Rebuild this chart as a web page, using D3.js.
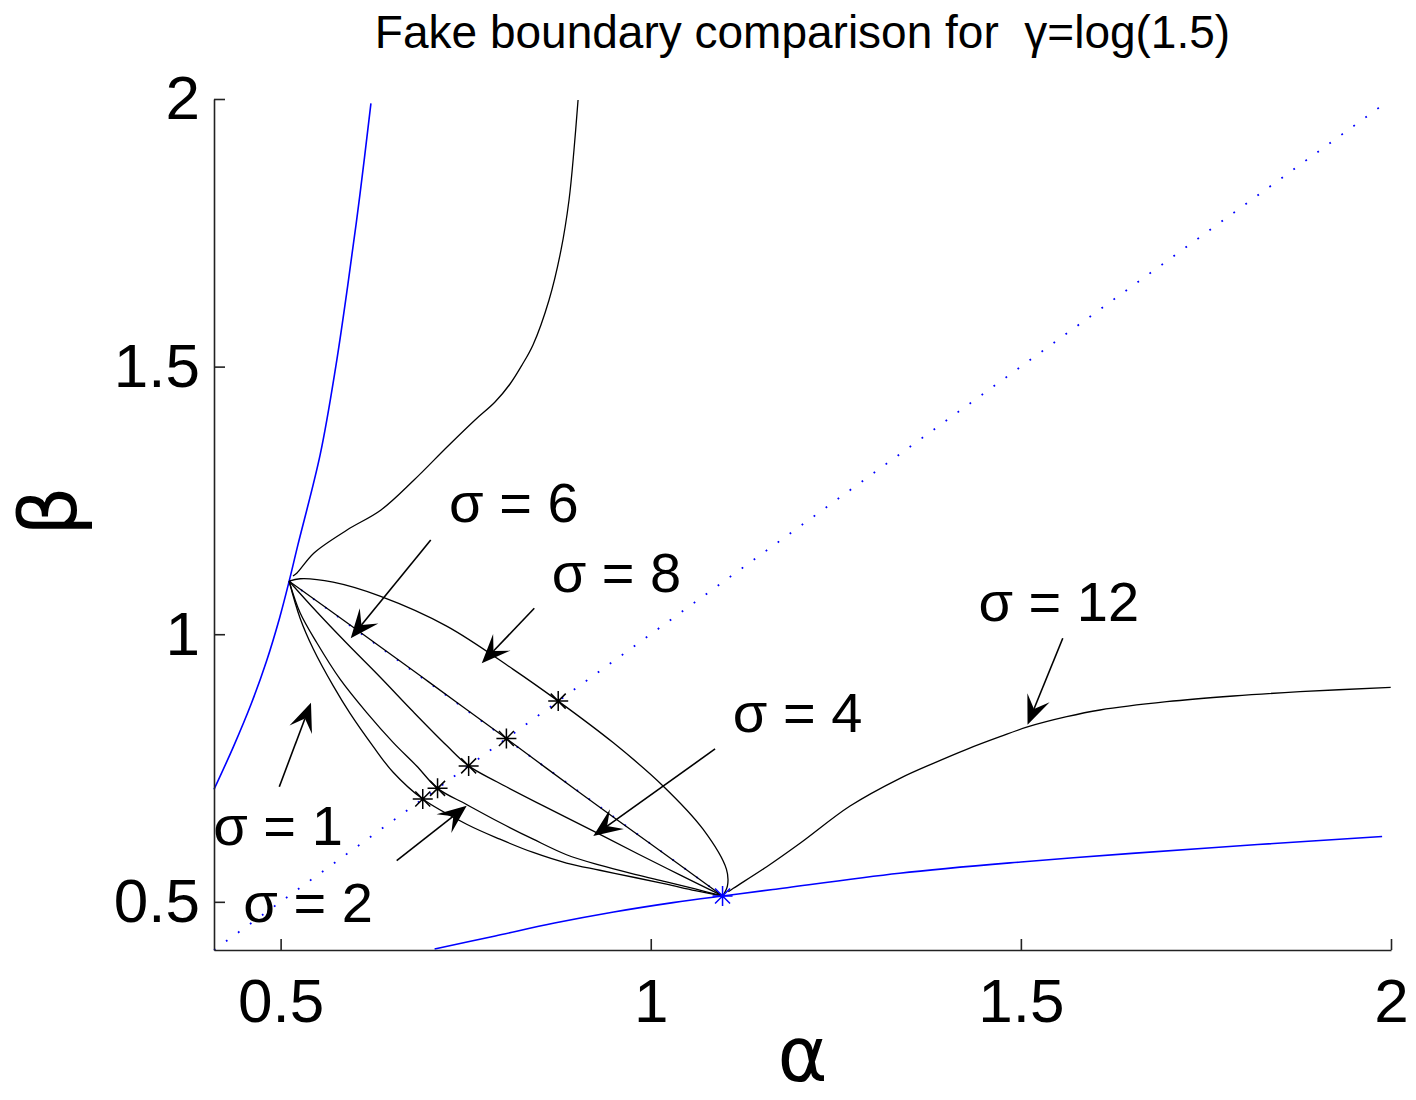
<!DOCTYPE html>
<html>
<head>
<meta charset="utf-8">
<script src="https://cdn.jsdelivr.net/npm/d3@7"></script>
<style>
  body { margin: 0; background: #fff; }
  svg { display: block; font-family: "Liberation Sans", Arial, Helvetica, sans-serif; }
</style>
</head>
<body>
<div id="chart"></div>
<script>
// axes
const xDomain = [0.41, 2];
const yDomain = [0.41, 2];
const xTicks = [0.5, 1, 1.5, 2];
const yTicks = [0.5, 1, 1.5, 2];

// blue boundaries (alpha, beta)
const blueUpper = [[0.410,0.710],[0.4363,0.790],[0.4603,0.870],[0.481,0.950],[0.4985,1.030],[0.5115,1.099],[0.523,1.165],[0.5535,1.336],[0.5745,1.500],[0.5905,1.650],[0.607,1.820],[0.622,1.992]];
const blueLower = [[0.708,0.412],[0.790,0.4363],[0.870,0.4603],[0.950,0.481],[1.030,0.4985],[1.097,0.511],[1.165,0.523],[1.336,0.5535],[1.500,0.5745],[1.650,0.5905],[1.820,0.607],[1.988,0.622]];
const diagonal = [[0.41,0.41],[1.99,1.99]];
const chord = [[0.5115,1.099],[1.097,0.511]];

// fake boundaries for each sigma
const sigma1 = [[0.5115,1.099],[0.5263,1.03],[0.5443,0.972],[0.5713,0.903],[0.5938,0.852],[0.6252,0.79],[0.652,0.742],[0.692,0.692],[0.7513,0.645],[0.7963,0.617],[0.8412,0.5922],[0.8862,0.5725],[0.9312,0.559],[0.98,0.545],[1.0212,0.533],[1.06,0.521],[1.097,0.511]];
const sigma2 = [[0.5115,1.099],[0.5263,1.04],[0.5489,0.984],[0.5803,0.916],[0.6163,0.8535],[0.6522,0.7975],[0.6838,0.7538],[0.712,0.712],[0.7513,0.6818],[0.7963,0.6482],[0.8412,0.617],[0.8862,0.588],[0.9312,0.5685],[0.98,0.551],[1.0212,0.5373],[1.06,0.524],[1.097,0.511]];
const sigma4 = [[0.5115,1.099],[0.55,1.04],[0.5893,0.983],[0.6343,0.92],[0.6792,0.855],[0.7243,0.792],[0.754,0.754],[0.792,0.7243],[0.855,0.6792],[0.92,0.634],[0.983,0.5893],[1.04,0.55],[1.097,0.511]];
const sigma6 = [[0.5115,1.099],[0.60,1.011],[0.70,0.911],[0.805,0.805],[0.90,0.708],[1.00,0.608],[1.097,0.511]];
const sigma8 = [[0.5115,1.099],[0.5263,1.1036],[0.5709,1.0972],[0.6343,1.0711],[0.7243,1.0151],[0.8142,0.9343],[0.875,0.875],[0.9491,0.7975],[1.0166,0.7165],[1.0706,0.6357],[1.1022,0.561],[1.1036,0.53],[1.097,0.511]];
const sigma12Upper = [[0.5167,1.1088],[0.5221,1.1144],[0.5451,1.1518],[0.5897,1.1947],[0.6356,1.2321],[0.6802,1.2881],[0.7248,1.3498],[0.7626,1.4003],[0.7896,1.4339],[0.8099,1.4675],[0.8261,1.503],[0.8409,1.5404],[0.8626,1.6245],[0.8788,1.7179],[0.8896,1.8113],[0.8963,1.9047],[0.9018,1.998]];
const sigma12Lower = [[1.1048,0.5189],[1.1116,0.5253],[1.1567,0.5656],[1.2017,0.6094],[1.2692,0.679],[1.3367,0.7308],[1.3817,0.7588],[1.4268,0.785],[1.4718,0.8085],[1.51,0.8272],[1.5619,0.8459],[1.6069,0.8584],[1.697,0.8739],[1.787,0.8846],[1.8771,0.8926],[1.9996,0.9008]];

// crossings with alpha = beta (sigma 1, 2, 4, 6, 8)
const crossings = [0.692, 0.712, 0.754, 0.805, 0.875];
const meetPoint = [1.097, 0.511];

const labels = [
  { text: "σ = 6",  at: [0.7275, 1.2102] },
  { text: "σ = 8",  at: [0.8662, 1.0795] },
  { text: "σ = 12", at: [1.4426, 1.0247] },
  { text: "σ = 4",  at: [1.1108, 0.8179] },
  { text: "σ = 1",  at: [0.409, 0.6062] },
  { text: "σ = 2",  at: [0.4496, 0.4629] }
];
const arrows = [
  { from: [0.7028, 1.176],  to: [0.5947, 0.9924] },
  { from: [0.8427, 1.0484], to: [0.7717, 0.9457] },
  { from: [0.4982, 0.7151], to: [0.5410, 0.8721] },
  { from: [0.6568, 0.5768], to: [0.7514, 0.6796] },
  { from: [1.0869, 0.7856], to: [0.9224, 0.623] },
  { from: [1.5566, 0.9924], to: [1.509, 0.831] }
];

(function () {
  const W = 1416, H = 1100;
  const plot = { left: 214, right: 1391, top: 99, bottom: 950 };

  const svg = d3.select("#chart").append("svg")
    .attr("width", W)
    .attr("height", H);

  const x = d3.scaleLinear().domain(xDomain).range([plot.left, plot.right]);
  const y = d3.scaleLinear().domain(yDomain).range([plot.bottom, plot.top]);

  const line = d3.line()
    .x(d => x(d[0]))
    .y(d => y(d[1]))
    .curve(d3.curveCatmullRom.alpha(0.5));
  const straight = d3.line().x(d => x(d[0])).y(d => y(d[1]));

  // dotted guides
  [diagonal, chord].forEach(pts => {
    svg.append("path")
      .attr("d", straight(pts))
      .attr("fill", "none")
      .attr("stroke", "#0000ff")
      .attr("stroke-width", 1.8)
      .attr("stroke-dasharray", "1.8,13");
  });

  // blue boundaries
  [blueUpper, blueLower].forEach(pts => {
    svg.append("path")
      .attr("d", line(pts))
      .attr("fill", "none")
      .attr("stroke", "#0000ff")
      .attr("stroke-width", 1.6);
  });

  // black sigma curves
  [sigma1, sigma2, sigma4, sigma6, sigma8, sigma12Upper, sigma12Lower].forEach(pts => {
    svg.append("path")
      .attr("d", line(pts))
      .attr("fill", "none")
      .attr("stroke", "#000")
      .attr("stroke-width", 1.3);
  });

  // asterisk markers
  function star(cx, cy, color) {
    const g = svg.append("g")
      .attr("transform", `translate(${cx},${cy})`)
      .attr("stroke", color)
      .attr("stroke-width", 1.5);
    const r = 10, q = 7.5;
    g.append("path")
      .attr("d", `M${-r},0H${r}M0,${-r}V${r}M${-q},${-q}L${q},${q}M${-q},${q}L${q},${-q}`);
  }
  crossings.forEach(v => star(x(v), y(v), "#000"));
  star(x(meetPoint[0]), y(meetPoint[1]), "#0000ff");

  // axes, ticks pointing inward
  const xAxis = d3.axisBottom(x).tickValues(xTicks).tickFormat(d3.format("")).tickSizeInner(-11).tickSizeOuter(0).tickPadding(28);
  const yAxis = d3.axisLeft(y).tickValues(yTicks).tickFormat(d3.format("")).tickSizeInner(-11).tickSizeOuter(0).tickPadding(14);

  const gx = svg.append("g").attr("transform", `translate(0,${plot.bottom})`).call(xAxis);
  const gy = svg.append("g").attr("transform", `translate(${plot.left},0)`).call(yAxis);
  [gx, gy].forEach(g => {
    g.selectAll("path, line").attr("stroke", "#222").attr("stroke-width", 1.6);
    g.selectAll("text")
      .attr("fill", "#000")
      .style("font-size", "62px")
      .style("font-family", '"Liberation Sans", Arial, sans-serif');
  });

  // annotation arrows
  arrows.forEach(a => {
    const x0 = x(a.from[0]), y0 = y(a.from[1]);
    const x1 = x(a.to[0]), y1 = y(a.to[1]);
    const ang = Math.atan2(y1 - y0, x1 - x0);
    const L = 29, w = 12, notch = 17;
    const ux = Math.cos(ang), uy = Math.sin(ang);
    const px = -uy, py = ux;
    svg.append("line")
      .attr("x1", x0).attr("y1", y0)
      .attr("x2", x1 - ux * notch).attr("y2", y1 - uy * notch)
      .attr("stroke", "#000")
      .attr("stroke-width", 1.6);
    const pts = [
      [x1, y1],
      [x1 - ux * L + px * w, y1 - uy * L + py * w],
      [x1 - ux * notch, y1 - uy * notch],
      [x1 - ux * L - px * w, y1 - uy * L - py * w]
    ];
    svg.append("path")
      .attr("d", "M" + pts.map(p => p.join(",")).join("L") + "Z")
      .attr("fill", "#000");
  });

  // sigma labels
  svg.selectAll(".sig")
    .data(labels)
    .join("text")
    .attr("class", "sig")
    .attr("x", d => x(d.at[0]))
    .attr("y", d => y(d.at[1]))
    .style("font-size", "56px")
    .style("white-space", "pre")
    .attr("fill", "#000")
    .text(d => d.text);

  // title
  svg.append("text")
    .attr("x", (plot.left + plot.right) / 2)
    .attr("y", 48)
    .attr("text-anchor", "middle")
    .style("font-size", "46px")
    .style("white-space", "pre")
    .text("Fake boundary comparison for  γ=log(1.5)");

  // axis labels
  svg.append("text")
    .attr("x", (plot.left + plot.right) / 2)
    .attr("y", 1081)
    .attr("text-anchor", "middle")
    .style("font-size", "76px")
    .style("font-family", '"DejaVu Sans", sans-serif')
    .text("α");

  svg.append("text")
    .attr("transform", `translate(76,511) rotate(-90)`)
    .attr("text-anchor", "middle")
    .style("font-size", "78px")
    .style("font-family", '"DejaVu Sans", sans-serif')
    .text("β");
})();
</script>
</body>
</html>
